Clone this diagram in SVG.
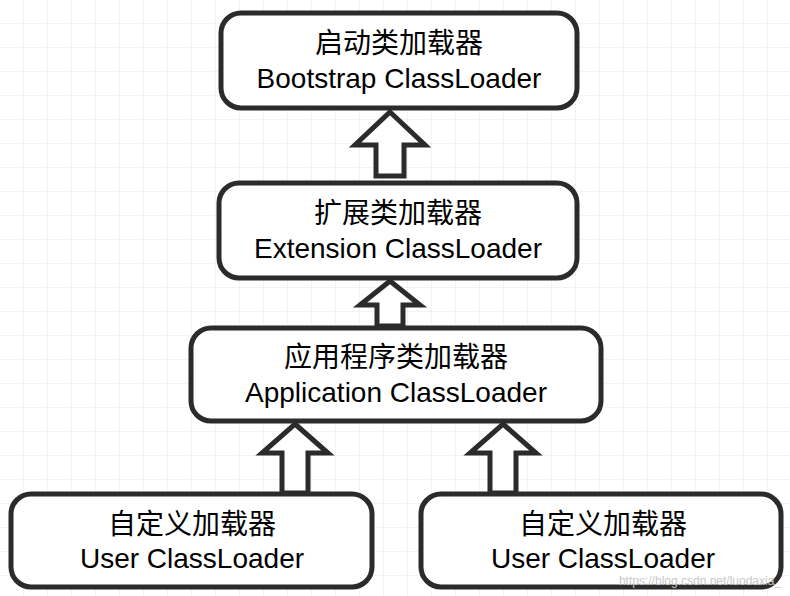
<svg xmlns="http://www.w3.org/2000/svg" width="790" height="596" viewBox="0 0 790 596">
<defs>
<pattern id="g" width="24" height="24" patternUnits="userSpaceOnUse"><path d="M24 0V24H0" fill="none" stroke="#e8e3f5" stroke-width="1"/></pattern>
<style>
.n{fill:#fff;stroke:#2b2b2b;stroke-width:5}
.a{fill:#fff;stroke:#2b2b2b;stroke-width:5;stroke-linejoin:miter}
text{font-family:"Liberation Sans","Noto Sans CJK SC",sans-serif;font-size:28px;fill:#000;text-anchor:middle}
</style>
</defs>
<rect width="790" height="596" fill="#fff"/>
<rect width="790" height="596" fill="url(#g)"/>
<g id="connectors">
<path class="a" d="M390 112L425 145H404V176H376V145H355Z"/>
<path class="a" d="M390 281L420 305H403V326H377V305H360Z"/>
<path class="a" d="M295 424L328 453H308V493H282V453H262Z"/>
<path class="a" d="M503 424L536 453H516V493H490V453H470Z"/>
</g>
<g id="bootstrap"><rect class="n" x="221" y="13" width="356" height="95" rx="20"/><text x="399" y="53">启动类加载器</text><text x="399" y="88">Bootstrap ClassLoader</text></g>
<g id="extension"><rect class="n" x="219" y="183" width="358" height="95" rx="20"/><text x="398" y="223">扩展类加载器</text><text x="398" y="258">Extension ClassLoader</text></g>
<g id="application"><rect class="n" x="191" y="328" width="410" height="93" rx="20"/><text x="396" y="367">应用程序类加载器</text><text x="396" y="402">Application ClassLoader</text></g>
<g id="user1"><rect class="n" x="11" y="494" width="361" height="93" rx="20"/><text x="192" y="534">自定义加载器</text><text x="192" y="568">User ClassLoader</text></g>
<g id="user2"><rect class="n" x="421" y="494" width="360" height="93" rx="20"/><text x="603" y="534">自定义加载器</text><text x="603" y="568">User ClassLoader</text></g>
<text x="700" y="585" style="font-size:12px;fill:#c8c8c8">https://blog.csdn.net/luodaxia_</text>
</svg>
